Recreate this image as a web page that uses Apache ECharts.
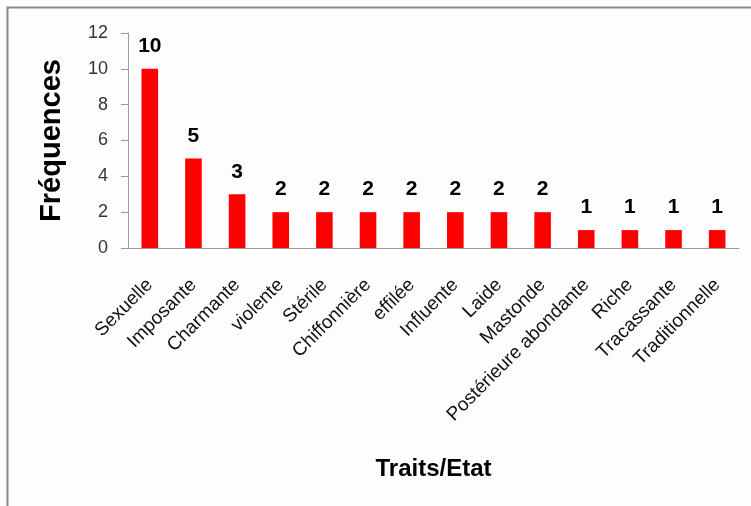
<!DOCTYPE html>
<html>
<head>
<meta charset="utf-8">
<script src="https://cdn.jsdelivr.net/npm/echarts@6/dist/echarts.min.js"></script>
<style>
  html, body { margin: 0; padding: 0; background: #ffffff; }
  #chart { width: 751px; height: 506px; }
</style>
</head>
<body>
<div id="chart"></div>
<script>
// Traits attributed and how often each one was cited
const categories = [
  'Sexuelle', 'Imposante', 'Charmante', 'violente', 'Stérile', 'Chiffonnière',
  'effilée', 'Influente', 'Laide', 'Mastonde', 'Postérieure abondante',
  'Riche', 'Tracassante', 'Traditionnelle'
];
const frequencies = [10, 5, 3, 2, 2, 2, 2, 2, 2, 2, 1, 1, 1, 1];
const yTicks = [0, 2, 4, 6, 8, 10, 12];
const xTitle = 'Traits/Etat';
const yTitle = 'Fréquences';

const chart = echarts.init(document.getElementById('chart'), null, { renderer: 'canvas' });

chart.setOption({
  backgroundColor: '#fdfdfd',
  animation: false,
  graphic: [{
    type: 'rect',
    shape: { x: 7.5, y: 7.5, width: 760, height: 520 },
    style: { fill: 'none', stroke: '#8a8a8a', lineWidth: 2 },
    silent: true
  }],
  grid: { left: 128, right: 12, top: 33, bottom: 258 },
  xAxis: {
    type: 'category',
    data: categories,
    name: xTitle,
    nameLocation: 'middle',
    nameGap: 209,
    nameTextStyle: {
      fontFamily: 'Liberation Sans', fontWeight: 'bold', fontSize: 24, color: '#000'
    },
    axisLine: { lineStyle: { color: '#9a9a9a', width: 1 } },
    axisTick: { alignWithLabel: false, length: 7, lineStyle: { color: '#9a9a9a' } },
    axisLabel: {
      rotate: 45, interval: 0, margin: 34,
      fontFamily: 'Liberation Sans', fontSize: 19, color: '#111'
    }
  },
  yAxis: {
    type: 'value',
    min: yTicks[0],
    max: yTicks[yTicks.length - 1],
    interval: yTicks[1] - yTicks[0],
    name: yTitle,
    nameLocation: 'middle',
    nameGap: 62,
    nameRotate: 90,
    nameTextStyle: {
      fontFamily: 'Liberation Sans', fontWeight: 'bold', fontSize: 29, color: '#000'
    },
    axisLine: { show: true, lineStyle: { color: '#9a9a9a', width: 1 } },
    axisTick: { show: true, length: 7, lineStyle: { color: '#9a9a9a' } },
    splitLine: { show: false },
    axisLabel: {
      margin: 20,
      fontFamily: 'Liberation Sans', fontSize: 18, color: '#333'
    }
  },
  series: [{
    type: 'bar',
    data: frequencies,
    barWidth: '38%',
    itemStyle: { color: '#ff0000' },
    label: {
      show: true,
      position: 'top',
      distance: 12,
      fontFamily: 'Liberation Sans',
      fontWeight: 'bold',
      fontSize: 21,
      color: '#000'
    }
  }]
});
</script>
</body>
</html>
